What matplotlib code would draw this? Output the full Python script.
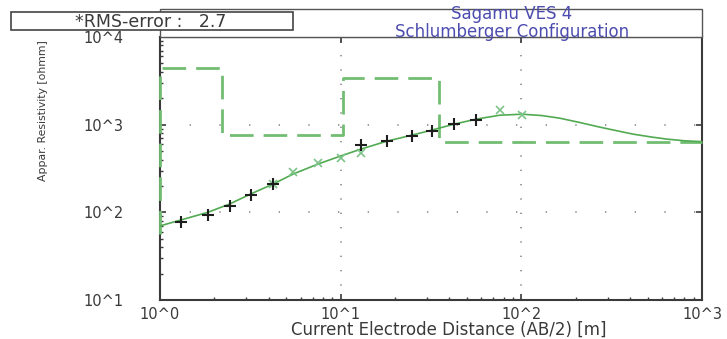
import numpy as np
import matplotlib
matplotlib.use("Agg")
import matplotlib.pyplot as plt
from matplotlib.patches import Rectangle
from matplotlib.ticker import FixedLocator, FixedFormatter, LogLocator, NullFormatter

plt.rcParams['font.family'] = ['DejaVu Sans']

# Observed apparent resistivity, first branch (black plus)
ab2_plus = [1.31, 1.84, 2.44, 3.18, 4.24, 12.9, 18.1, 24.7, 31.9, 42.4, 56.1]
rho_plus = [78, 93, 119, 158, 212, 585, 650, 740, 843, 1020, 1116]

# Observed apparent resistivity, second branch (green cross)
ab2_cross = [4.24, 5.47, 7.5, 10.0, 12.9, 76.2, 101]
rho_cross = [212, 288, 362, 413, 479, 1488, 1273]

# Calculated sounding curve
ab2_fit = [1.0, 1.31, 1.84, 2.44, 3.18, 4.24, 5.47, 7.5, 10.0, 12.9, 18.1, 24.7,
           31.9, 42.4, 56.1, 76.0, 101, 130, 163, 210, 272, 340, 415, 520, 640,
           800, 1000]
rho_fit = [70, 82, 100, 125, 162, 211, 274, 356, 439, 525, 650, 758,
           866, 1013, 1155, 1282, 1316, 1270, 1186, 1060, 937, 850, 780, 725, 684,
           655, 640]

# Layered model: layer resistivities and layer boundaries (AB/2 equivalent)
layer_rho = [57, 4420, 760, 3400, 638]
layer_bounds = [1.0, 2.2, 10.26, 35.1]

x_ticks = [1, 10, 100, 1000]
x_tick_labels = ['10^0', '10^1', '10^2', '10^3']
y_ticks = [10, 100, 1000, 10000]
y_tick_labels = ['10^1', '10^2', '10^3', '10^4']

rms_error = 2.7
title_lines = ['Sagamu VES 4', 'Schlumberger Configuration']

W, H = 727, 339
fig = plt.figure(figsize=(W / 100, H / 100), dpi=100)
fig.patch.set_facecolor('white')

ax_l, ax_r, ax_t, ax_b = 160, 702, 37, 300
ax = fig.add_axes([ax_l / W, 1 - ax_b / H, (ax_r - ax_l) / W, (ax_b - ax_t) / H])
ax.set_xscale('log')
ax.set_yscale('log')
ax.set_xlim(1, 1000)
ax.set_ylim(10, 10000)

# dotted decade grid
grid_c = '#8a8a8a'
for yv in y_ticks[1:-1]:
    ax.axhline(yv, color=grid_c, lw=1.2, ls=(0, (0.8, 17)), zorder=1)
for xv in x_ticks[1:-1]:
    ax.axvline(xv, color=grid_c, lw=1.2, ls=(0, (0.8, 7.8)), zorder=1)

# step model
mx = np.concatenate([np.repeat(layer_bounds, 2), [1000]])
my = np.repeat(layer_rho, 2)[1:]
ax.plot(mx, my, color='#72bd72', lw=2.0, ls=(0, (8.5, 3.6)), zorder=3,
        solid_capstyle='butt', dash_capstyle='butt', clip_on=False)

# calculated curve
ax.plot(ab2_fit, rho_fit, color='#52aa52', lw=1.2, zorder=4)

# field data
ax.plot(ab2_cross, rho_cross, ls='none', marker='x', ms=5.5, mew=1.2,
        color='#7cc488', zorder=5)
ax.plot(ab2_plus, rho_plus, ls='none', marker='+', ms=8, mew=1.5,
        color='#1e1e1e', zorder=6)

# axes styling
for s in ax.spines.values():
    s.set_color('#3a3a3a')
    s.set_linewidth(1.5)

ax.xaxis.set_major_locator(FixedLocator(x_ticks))
ax.xaxis.set_major_formatter(FixedFormatter(x_tick_labels))
ax.yaxis.set_major_locator(FixedLocator(y_ticks))
ax.yaxis.set_major_formatter(FixedFormatter(y_tick_labels))
ax.xaxis.set_minor_locator(LogLocator(base=10, subs=np.arange(2, 10)))
ax.yaxis.set_minor_locator(LogLocator(base=10, subs=np.arange(2, 10)))
ax.xaxis.set_minor_formatter(NullFormatter())
ax.yaxis.set_minor_formatter(NullFormatter())

ax.tick_params(which='major', direction='in', length=4.5, width=1.2,
               color='#3a3a3a', top=True, right=True, labelsize=10.5,
               labelcolor='#3a3a3a')
ax.tick_params(which='minor', direction='in', length=2.2, width=1.0,
               color='#3a3a3a', top=False, right=False)
ax.tick_params(axis='y', which='major', pad=26)
ax.tick_params(axis='x', which='major', pad=5)

fig.text(449 / W, 1 - 330 / H, 'Current Electrode Distance (AB/2) [m]',
         ha='center', va='center', fontsize=12, color='#3a3a3a')
fig.text(43 / W, 1 - 111 / H, 'Appar. Resistivity [ohmm]', rotation=90,
         ha='center', va='center', fontsize=7.8, color='#3a3a3a')

# title panel above the axes
fig.patches.append(Rectangle((ax_l / W, 1 - ax_t / H), (ax_r - ax_l) / W, 28 / H,
                             transform=fig.transFigure, facecolor='white',
                             edgecolor='#555555', lw=1.0, zorder=1))
fig.text(512 / W, 1 - 23 / H, '\n'.join(title_lines), ha='center',
         va='center', ma='center', fontsize=12, linespacing=0.95,
         color='#4d4db0', zorder=3)

# RMS error box
fig.patches.append(Rectangle((11 / W, 1 - 30 / H), 282 / W, 18 / H,
                             transform=fig.transFigure, facecolor='white',
                             edgecolor='#444444', lw=1.2, zorder=2))
fig.text(151 / W, 1 - 22 / H, f'*RMS-error :   {rms_error}', ha='center',
         va='center', fontsize=12.5, color='#3a3a3a', zorder=3)

fig.savefig('out.png', dpi=100, facecolor='white')
